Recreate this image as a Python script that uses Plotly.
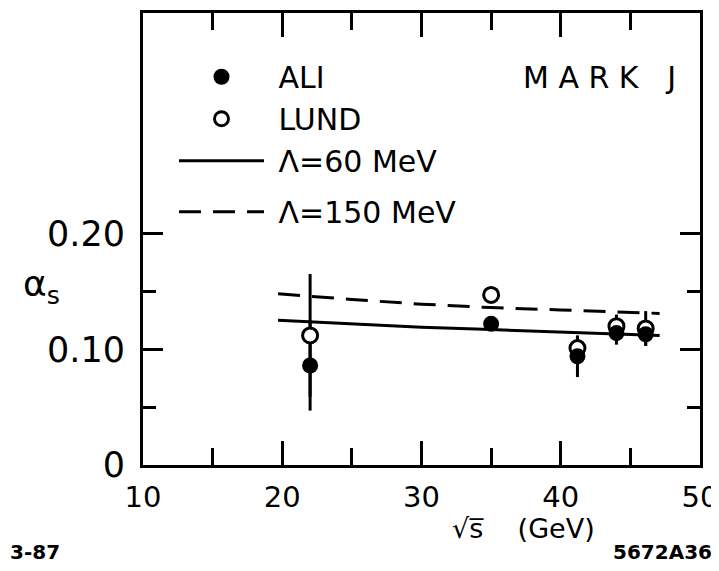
import plotly.graph_objects as go

# ---- data ----
sqrt_s = [22.0, 35.0, 41.2, 44.0, 46.1]
ali = [0.086, 0.122, 0.094, 0.114, 0.113]
ali_err = [0.039, 0.0, 0.018, 0.010, 0.010]
lund = [0.112, 0.147, 0.101, 0.120, 0.118]
lund_err = [0.053, 0.0, 0.010, 0.010, 0.015]

curve_x = [19.7, 25.0, 30.0, 35.0, 40.0, 45.0, 47.1]
lam60 = [0.125, 0.122, 0.119, 0.117, 0.115, 0.113, 0.112]
lam150 = [0.148, 0.143, 0.139, 0.136, 0.134, 0.132, 0.131]

x_ticks = [10, 20, 30, 40, 50]
x_minor = [15, 25, 35, 45]
y_ticks = [0, 0.10, 0.20]
y_ticktext = ["0", "0.10", "0.20"]
y_minor = [0.05, 0.15]

FONT = "DejaVu Sans"
BLACK = "black"

# ---- layout geometry (picture pixels) ----
W, H = 719, 571
OFF = 8                      # page body margin
X0, X1, Y0, Y1 = 143, 700, 10, 465


def px(x):
    return (x - X0) / (X1 - X0)


def py(y):
    return (Y1 - y) / (Y1 - Y0)


fig = go.Figure()

# theory curves
fig.add_trace(go.Scatter(x=curve_x, y=lam60, mode="lines",
                         line=dict(color=BLACK, width=3), showlegend=False))
fig.add_trace(go.Scatter(x=curve_x, y=lam150, mode="lines",
                         line=dict(color=BLACK, width=3, dash="22px,12px"), showlegend=False))

# error bars (drawn underneath the markers)
for vals, errs in ((ali, ali_err), (lund, lund_err)):
    fig.add_trace(go.Scatter(x=sqrt_s, y=vals, mode="markers",
                             error_y=dict(type="data", array=errs, color=BLACK, thickness=3, width=0),
                             marker=dict(size=1, color="rgba(0,0,0,0)"),
                             showlegend=False, hoverinfo="skip"))

# data markers
fig.add_trace(go.Scatter(x=sqrt_s, y=lund, mode="markers",
                         marker=dict(symbol="circle", size=15, color="white",
                                     line=dict(width=3, color=BLACK)),
                         showlegend=False))
fig.add_trace(go.Scatter(x=sqrt_s, y=ali, mode="markers",
                         marker=dict(symbol="circle", size=16, color=BLACK),
                         showlegend=False))

# legend entries
fig.add_trace(go.Scatter(x=[None], y=[None], mode="markers", name=" ALI",
                         marker=dict(symbol="circle", size=17, color=BLACK),
                         legendrank=1, legendgroup="a"))
fig.add_trace(go.Scatter(x=[None], y=[None], mode="markers", name=" LUND",
                         marker=dict(symbol="circle", size=14, color="white",
                                     line=dict(width=3, color=BLACK)),
                         legendrank=2, legendgroup="a"))
fig.add_trace(go.Scatter(x=[None], y=[None], mode="lines", name=" Λ=60 MeV",
                         line=dict(color=BLACK, width=3), legendrank=3, legendgroup="a"))
fig.add_trace(go.Scatter(x=[None], y=[None], mode="lines", name=" Λ=150 MeV",
                         line=dict(color=BLACK, width=3, dash="22px,12px"),
                         legendrank=4, legendgroup="b"))

fig.update_layout(
    width=W, height=H,
    margin=dict(l=X0 - OFF, r=W - (X1 - OFF), t=Y0 - OFF, b=H - (Y1 - OFF)),
    paper_bgcolor="white", plot_bgcolor="white",
    font=dict(family=FONT, color=BLACK, size=30),
    showlegend=True,
    legend=dict(x=px(174), y=py(48), xanchor="left", yanchor="top",
                bgcolor="rgba(0,0,0,0)", font=dict(size=30, family=FONT),
                itemwidth=85, traceorder="grouped", tracegroupgap=9),
)

fig.update_xaxes(range=[10, 50], tickvals=x_ticks, ticks="inside", ticklen=24, tickwidth=3,
                 tickcolor=BLACK, showline=True, linewidth=3, linecolor=BLACK, mirror="ticks",
                 showgrid=False, zeroline=False, tickfont=dict(size=29, family=FONT),
                 ticklabelstandoff=4, ticklabeloverflow="allow",
                 minor=dict(tickvals=x_minor, ticks="inside", ticklen=17, tickwidth=3,
                            tickcolor=BLACK, showgrid=False))
fig.update_yaxes(range=[0, 0.3906], tickvals=y_ticks, ticktext=y_ticktext, ticks="inside",
                 ticklen=20, tickwidth=3, tickcolor=BLACK, showline=True, linewidth=3,
                 linecolor=BLACK, mirror="ticks", showgrid=False, zeroline=False,
                 tickfont=dict(size=35, family=FONT), ticklabelstandoff=8,
                 minor=dict(tickvals=y_minor, ticks="inside", ticklen=13, tickwidth=3,
                            tickcolor=BLACK, showgrid=False))

# texts
fig.add_annotation(text="M A R K   J", xref="paper", yref="paper", x=px(678), y=py(75),
                   xanchor="right", yanchor="middle", showarrow=False,
                   font=dict(size=30, family=FONT))
fig.add_annotation(text="α<sub>s</sub>", xref="paper", yref="paper",
                   x=px(41), y=py(285),
                   xanchor="center", yanchor="middle", showarrow=False,
                   font=dict(size=36, family=FONT))
fig.add_annotation(text="√s\u0305    (GeV)",
                   xref="paper", yref="paper",
                   x=px(523), y=py(529),
                   xanchor="center", yanchor="middle", showarrow=False,
                   font=dict(size=27, family=FONT))
fig.add_annotation(text="<b>3-87</b>", xref="paper", yref="paper",
                   x=px(8), y=py(553),
                   xanchor="left", yanchor="middle", showarrow=False,
                   font=dict(size=20, family=FONT))
fig.add_annotation(text="<b>5672A36</b>", xref="paper", yref="paper",
                   x=px(714), y=py(553),
                   xanchor="right", yanchor="middle", showarrow=False,
                   font=dict(size=20, family=FONT))

fig.write_html("out.html", config={"displayModeBar": False})
